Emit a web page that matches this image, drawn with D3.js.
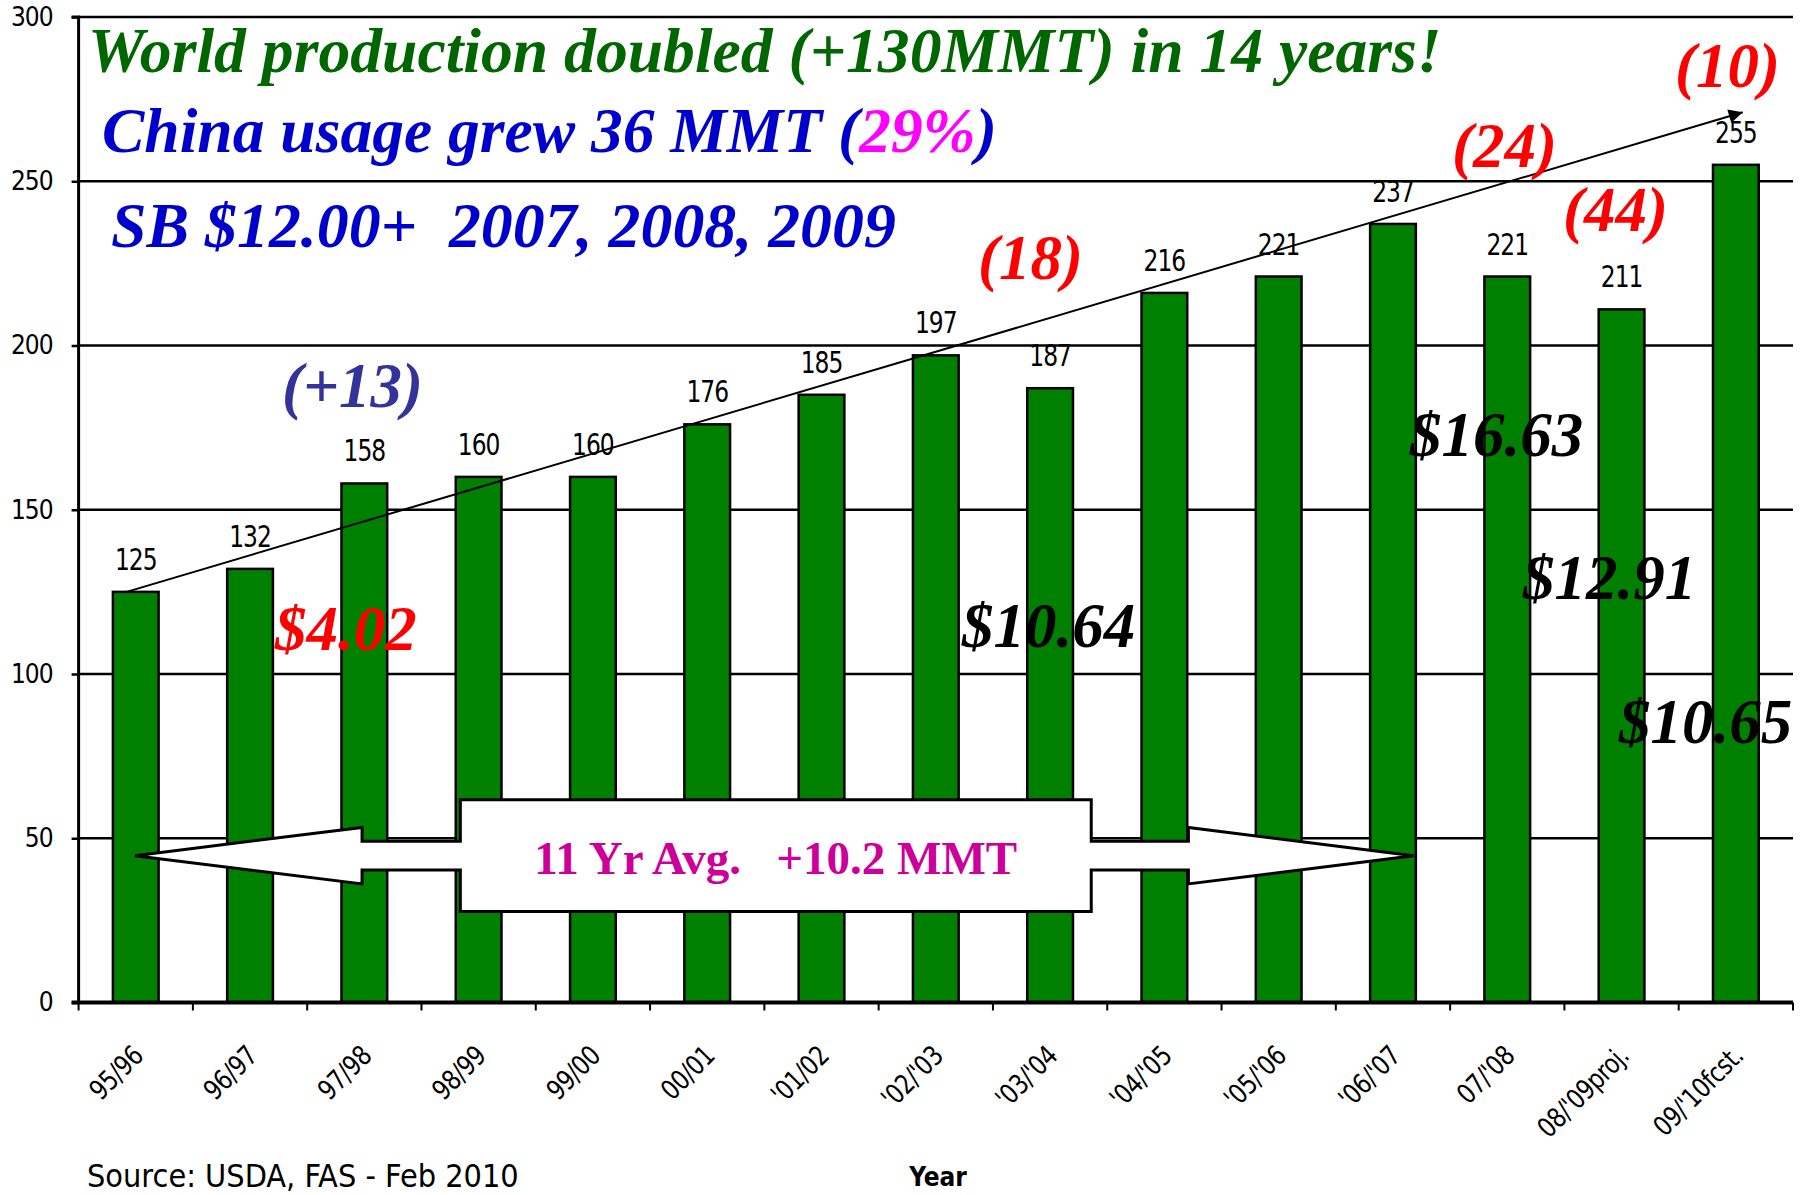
<!DOCTYPE html>
<html>
<head>
<meta charset="utf-8">
<style>
  body { margin: 0; background: #fff; }
  svg { display: block; }
  .tick text { font-family: "DejaVu Sans Condensed", "DejaVu Sans", sans-serif; }
</style>
<script src="https://d3js.org/d3.v7.min.js"></script>
</head>
<body>
<svg id="chart" width="1813" height="1195"></svg>
<script>
// world soybean production, MMT
const years = ["95/96", "96/97", "97/98", "98/99", "99/00", "00/01", "'01/02", "'02/'03",
  "'03/'04", "'04/'05", "'05/'06", "'06/'07", "07/'08", "08/'09proj.", "09/'10fcst."];
const production = [125, 132, 158, 160, 160, 176, 185, 197, 187, 216, 221, 237, 221, 211, 255];
const yTicks = [0, 50, 100, 150, 200, 250, 300];

// annotation texts
const headline = "World production doubled (+130MMT) in 14 years!";
const chinaParts = ["China usage grew 36 MMT (", "29%", ")"];
const priceLine = "SB $12.00+  2007, 2008, 2009";
const changeLabels = ["(+13)", "(18)", "(24)", "(44)", "(10)"];
const priceLabels = ["$4.02", "$10.64", "$16.63", "$12.91", "$10.65"];
const avgLabel = "11 Yr Avg.   +10.2 MMT";
const sourceNote = "Source: USDA, FAS - Feb 2010";
const xTitle = "Year";

// trend arrow: bar index (fractional) and value
const trendIdx = [-0.08, 14.06];
const trendVal = [125, 271];

const svg = d3.select("#chart");
const W = 1813, H = 1195;
const plotL = 78.6, plotR = 1793, plotT = 17, plotB = 1002.5;
const sans = "'DejaVu Sans Condensed', 'DejaVu Sans', sans-serif";
const serif = "'Liberation Serif', 'Times New Roman', serif";

svg.append("rect").attr("width", W).attr("height", H).attr("fill", "#fff");

const x = d3.scaleBand().domain(years).range([plotL, plotR]).padding(0);
const xi = d3.scaleLinear().domain([-0.5, years.length - 0.5]).range([plotL, plotR]);
const y = d3.scaleLinear().domain([0, 300]).range([plotB, plotT]);
const barW = x.bandwidth() * 0.4;

// gridlines
svg.append("g")
  .selectAll("line")
  .data(yTicks.filter(d => d > 0))
  .join("line")
  .attr("x1", plotL).attr("x2", plotR)
  .attr("y1", d => y(d)).attr("y2", d => y(d))
  .attr("stroke", "#000").attr("stroke-width", 2.5);

// bars
const data = years.map((yr, i) => ({ yr, v: production[i] }));
svg.append("g")
  .selectAll("rect")
  .data(data)
  .join("rect")
  .attr("x", d => x(d.yr) + x.bandwidth() / 2 - barW / 2)
  .attr("y", d => y(d.v))
  .attr("width", barW)
  .attr("height", d => y(0) - y(d.v))
  .attr("fill", "#008000")
  .attr("stroke", "#000")
  .attr("stroke-width", 2.5);

// value labels (font is tall and narrow in the original)
svg.append("g")
  .selectAll("text")
  .data(data)
  .join("text")
  .attr("transform", d => `translate(${x(d.yr) + x.bandwidth() / 2},${y(d.v) - 22}) scale(1,1.13)`)
  .attr("text-anchor", "middle")
  .attr("font-family", sans)
  .attr("font-size", 26)
  .attr("letter-spacing", -1)
  .text(d => d.v);

// y axis
const yAxis = svg.append("g")
  .attr("transform", `translate(${plotL},0)`)
  .call(d3.axisLeft(y).tickValues(yTicks).tickSize(7).tickPadding(19));
yAxis.select(".domain").attr("stroke-width", 3).attr("d", `M${-7},${plotT}H0V${plotB}`);
yAxis.selectAll(".tick line").attr("stroke-width", 2.5);
yAxis.selectAll(".tick text")
  .attr("font-size", 26).attr("letter-spacing", -1).attr("fill", "#000");

// x axis
const xAxis = svg.append("g")
  .attr("transform", `translate(0,${plotB})`)
  .call(d3.axisBottom(x).tickSize(0).tickFormat(""));
xAxis.select(".domain").attr("stroke-width", 4).attr("d", `M${plotL - 7},0H${plotR}`);
xAxis.append("g")
  .selectAll("line")
  .data(d3.range(years.length + 1))
  .join("line")
  .attr("x1", d => xi(d - 0.5)).attr("x2", d => xi(d - 0.5))
  .attr("y1", 0).attr("y2", 8)
  .attr("stroke", "#000").attr("stroke-width", 2);
xAxis.append("g")
  .selectAll("text")
  .data(years)
  .join("text")
  .attr("transform", d => `translate(${x(d) + x.bandwidth() / 2 + 9},55) rotate(-45) scale(1,1.1)`)
  .attr("text-anchor", "end")
  .attr("font-family", sans)
  .attr("font-size", 25)
  .attr("letter-spacing", -0.5)
  .attr("fill", "#000")
  .text(d => d);

// trend arrow
const defs = svg.append("defs");
defs.append("marker")
  .attr("id", "head")
  .attr("viewBox", "0 0 10 10")
  .attr("refX", 10).attr("refY", 5)
  .attr("markerWidth", 8).attr("markerHeight", 7)
  .attr("markerUnits", "strokeWidth")
  .attr("orient", "auto")
  .append("path").attr("d", "M0,0L10,5L0,10Z").attr("fill", "#000");

svg.append("line")
  .attr("x1", xi(trendIdx[0])).attr("y1", y(trendVal[0]))
  .attr("x2", xi(trendIdx[1])).attr("y2", y(trendVal[1]))
  .attr("stroke", "#000").attr("stroke-width", 2)
  .attr("marker-end", "url(#head)");

// 11 yr average double arrow (index / value units)
const arrowX = [-0.007, 1.98, 2.84, 8.36, 9.21, 11.18];
const arrowMid = 44.7, shaftH = 4.4, headH = 8.6, bodyH = 17.0;
const pts = [
  [arrowX[0], arrowMid],
  [arrowX[1], arrowMid + headH],
  [arrowX[1], arrowMid + shaftH],
  [arrowX[2], arrowMid + shaftH],
  [arrowX[2], arrowMid + bodyH],
  [arrowX[3], arrowMid + bodyH],
  [arrowX[3], arrowMid + shaftH],
  [arrowX[4], arrowMid + shaftH],
  [arrowX[4], arrowMid + headH],
  [arrowX[5], arrowMid],
  [arrowX[4], arrowMid - headH],
  [arrowX[4], arrowMid - shaftH],
  [arrowX[3], arrowMid - shaftH],
  [arrowX[3], arrowMid - bodyH],
  [arrowX[2], arrowMid - bodyH],
  [arrowX[2], arrowMid - shaftH],
  [arrowX[1], arrowMid - shaftH],
  [arrowX[1], arrowMid - headH]
];
svg.append("path")
  .attr("d", d3.line().x(d => xi(d[0])).y(d => y(d[1])).curve(d3.curveLinearClosed)(pts))
  .attr("fill", "#fff").attr("stroke", "#000").attr("stroke-width", 3)
  .attr("stroke-linejoin", "miter");

svg.append("text")
  .attr("x", xi((arrowX[2] + arrowX[3]) / 2))
  .attr("y", y(arrowMid) + 18)
  .attr("text-anchor", "middle")
  .attr("font-family", serif)
  .attr("font-weight", "bold")
  .attr("font-size", 47)
  .attr("fill", "#CC0099")
  .style("white-space", "pre")
  .text(avgLabel);

// big annotation labels
function fit(sel, w) {
  const len = sel.node().getComputedTextLength();
  sel.attr("font-size", +sel.attr("font-size") * w / len);
}

const changePos = [[282, 407, "#333399"], [978, 279, "#FF0000"], [1452, 167, "#FF0000"],
  [1563, 231, "#FF0000"], [1675, 87, "#FF0000"]];
const pricePos = [[275, 650, "#FF0000"], [962, 647, "#000"], [1410, 456, "#000"],
  [1523, 599, "#000"], [1619, 743, "#000"]];

svg.append("g")
  .selectAll("text")
  .data(changeLabels.map((t, i) => ({ t, p: changePos[i] })).concat(
    priceLabels.map((t, i) => ({ t, p: pricePos[i] }))))
  .join("text")
  .attr("x", d => d.p[0]).attr("y", d => d.p[1])
  .attr("font-family", serif)
  .attr("font-weight", "bold").attr("font-style", "italic")
  .attr("font-size", 63)
  .attr("fill", d => d.p[2])
  .text(d => d.t);

// headline lines
const t1 = svg.append("text")
  .attr("x", 88).attr("y", 72)
  .attr("font-family", serif).attr("font-weight", "bold").attr("font-style", "italic")
  .attr("font-size", 64).attr("fill", "#006600")
  .text(headline);
fit(t1, 1354);

const t2 = svg.append("text")
  .attr("x", 102).attr("y", 152)
  .attr("font-family", serif).attr("font-weight", "bold").attr("font-style", "italic")
  .attr("font-size", 64).attr("fill", "#0000CC");
t2.selectAll("tspan")
  .data(chinaParts)
  .join("tspan")
  .attr("fill", (d, i) => i === 1 ? "#FF00FF" : "#0000CC")
  .text(d => d);
fit(t2, 895);

const t3 = svg.append("text")
  .attr("x", 111).attr("y", 247)
  .attr("font-family", serif).attr("font-weight", "bold").attr("font-style", "italic")
  .attr("font-size", 64).attr("fill", "#0000CC")
  .style("white-space", "pre")
  .text(priceLine);
fit(t3, 785);

// footer
const src = svg.append("text")
  .attr("x", 87).attr("y", 1187)
  .attr("font-family", sans)
  .attr("font-size", 28)
  .text(sourceNote);
fit(src, 432);

svg.append("text")
  .attr("x", 938).attr("y", 1186)
  .attr("text-anchor", "middle")
  .attr("font-family", sans)
  .attr("font-weight", "bold")
  .attr("font-size", 26)
  .text(xTitle);
</script>
</body>
</html>
